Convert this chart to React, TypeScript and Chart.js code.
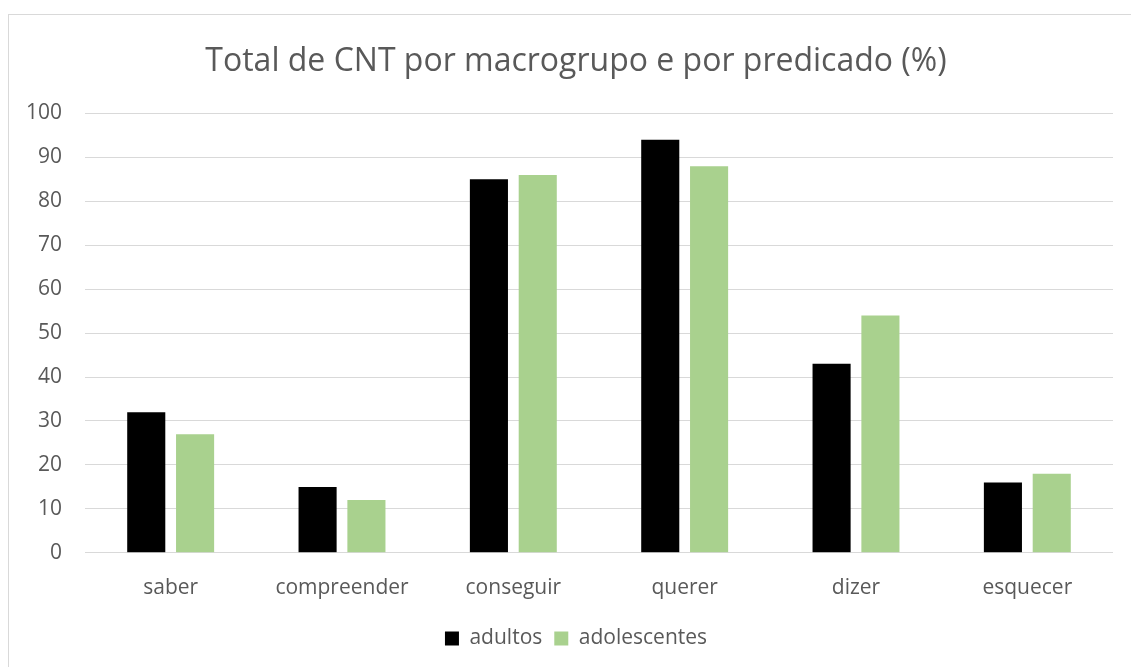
import React, { useEffect, useRef } from "react";
import { Chart, registerables } from "chart.js";

Chart.register(...registerables);

const categories = ["saber", "compreender", "conseguir", "querer", "dizer", "esquecer"];
const adultos = [32, 15, 85, 94, 43, 16];
const adolescentes = [27, 12, 86, 88, 54, 18];
const titleText = "Total de CNT por macrogrupo e por predicado (%)";

export default function App() {
  const ref = useRef<HTMLCanvasElement | null>(null);
  useEffect(() => {
    if (!ref.current) return;
    const font = "'Open Sans', 'Liberation Sans', sans-serif";
    const chart = new Chart(ref.current, {
      type: "bar",
      data: {
        labels: categories,
        datasets: [
          { label: "adultos", data: adultos, backgroundColor: "#000000", categoryPercentage: 0.57, barPercentage: 0.78 },
          { label: "adolescentes", data: adolescentes, backgroundColor: "#a9d18e", categoryPercentage: 0.57, barPercentage: 0.78 },
        ],
      },
      options: {
        animation: false,
        responsive: false,
        maintainAspectRatio: false,
        layout: { padding: { left: 30, right: 18, top: 28, bottom: 9 } },
        plugins: {
          title: {
            display: true,
            text: titleText,
            color: "#595959",
            font: { family: font, size: 32, weight: "normal" },
            padding: { top: 0, bottom: 32 },
          },
          legend: {
            position: "bottom",
            labels: {
              color: "#595959",
              font: { family: font, size: 21 },
              boxWidth: 14,
              boxHeight: 14,
              padding: 12,
            },
          },
          tooltip: { enabled: false },
        },
        scales: {
          x: {
            grid: { display: false },
            border: { display: false },
            ticks: { color: "#595959", font: { family: font, size: 21 }, padding: 15 },
          },
          y: {
            min: 0,
            max: 100,
            afterFit: (scale: any) => {
              scale.width = 46;
              // let the tick labels extend left of the (narrowed) scale box
              scale._computeLabelArea = () => undefined;
            },
            ticks: { stepSize: 10, color: "#595959", font: { family: font, size: 21 }, padding: 23 },
            grid: { color: "#d9d9d9", lineWidth: 1, drawTicks: false },
            border: { display: false },
          },
        },
      },
    });
    return () => chart.destroy();
  }, []);
  return (
    <div
      style={{
        position: "fixed",
        left: 8,
        top: 14,
        width: 1140,
        height: 670,
        border: "1px solid #d9d9d9",
        background: "#fff",
      }}
    >
      <canvas ref={ref} width={1122} height={653} style={{ display: "block" }} />
    </div>
  );
}
